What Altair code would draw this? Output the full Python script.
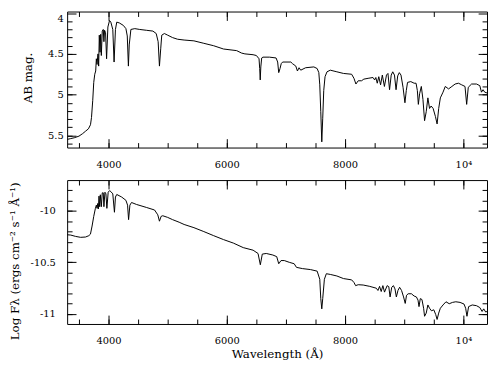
import altair as alt
import pandas as pd

# ---- top panel: AB magnitude vs wavelength ----
top_wl = [3300, 3360, 3420, 3500, 3560, 3610, 3660, 3695, 3712, 3733, 3750, 3767, 3783,
          3794, 3806, 3815, 3822, 3833, 3844, 3856, 3867, 3878, 3894, 3911, 3922, 3933,
          3950, 3967, 3989, 4017, 4039, 4072, 4094, 4117, 4139, 4183, 4250, 4294, 4317,
          4336, 4350, 4378, 4444, 4528, 4639, 4750, 4806, 4839, 4861, 4883, 4900, 4944,
          5000, 5083, 5167, 5278, 5444, 5611, 5778, 5944, 6167, 6250, 6306, 6444, 6500,
          6545, 6556, 6565, 6575, 6590, 6611, 6722, 6833, 6860, 6878, 6900, 6920, 6944,
          7083, 7111, 7167, 7194, 7222, 7250, 7333, 7472, 7528, 7556, 7572, 7589, 7606,
          7622, 7639, 7661, 7694, 7750, 7861, 7972, 8111, 8150, 8183, 8222, 8278, 8317,
          8389, 8472, 8500, 8520, 8544, 8570, 8600, 8630, 8665, 8700, 8725, 8752, 8780,
          8806, 8835, 8862, 8890, 8917, 8945, 8980, 9012, 9035, 9056, 9111, 9167, 9200,
          9222, 9239, 9260, 9289, 9317, 9344, 9372, 9400, 9428, 9455, 9489, 9528, 9556,
          9583, 9611, 9656, 9694, 9750, 9806, 9861, 9917, 9972, 10028, 10056, 10083,
          10139, 10222, 10278, 10306, 10333, 10361, 10400]
top_mag = [5.55, 5.54, 5.53, 5.51, 5.48, 5.45, 5.42, 5.37, 5.28, 5.07, 4.85, 4.75, 4.71,
           4.56, 4.63, 4.55, 4.50, 4.65, 4.27, 4.48, 4.26, 4.52, 4.22, 4.20, 4.35, 4.21,
           4.24, 4.56, 4.17, 4.09, 4.11, 4.20, 4.60, 4.20, 4.11, 4.12, 4.15, 4.19, 4.28,
           4.65, 4.39, 4.20, 4.19, 4.20, 4.21, 4.22, 4.25, 4.35, 4.65, 4.43, 4.27, 4.25,
           4.27, 4.30, 4.32, 4.33, 4.34, 4.37, 4.40, 4.44, 4.46, 4.49, 4.50, 4.51, 4.52,
           4.56, 4.68, 4.82, 4.66, 4.55, 4.54, 4.54, 4.55, 4.60, 4.73, 4.68, 4.62, 4.60,
           4.60, 4.62, 4.65, 4.71, 4.67, 4.70, 4.67, 4.66, 4.68, 4.73, 4.88, 5.21, 5.58,
           5.29, 4.95, 4.78, 4.72, 4.70, 4.72, 4.74, 4.75, 4.80, 4.87, 4.83, 4.83, 4.81,
           4.80, 4.79, 4.82, 4.79, 4.86, 4.78, 4.88, 4.76, 4.90, 4.76, 4.74, 4.94, 4.76,
           4.72, 4.76, 4.94, 4.77, 4.73, 4.76, 4.91, 5.10, 4.95, 4.85, 4.84, 4.86, 4.86,
           4.95, 5.12, 4.99, 4.90, 5.06, 5.32, 5.21, 5.04, 5.17, 5.14, 5.17, 5.27, 5.36,
           5.17, 5.04, 4.97, 4.90, 4.93, 4.90, 4.87, 4.86, 4.88, 4.90, 5.12, 4.91,
           4.87, 4.87, 4.89, 4.97, 4.94, 4.97, 4.98]

# ---- bottom panel: log F_lambda vs wavelength ----
bot_wl = [3300, 3361, 3444, 3528, 3611, 3667, 3694, 3722, 3750, 3778, 3794, 3806, 3817,
          3828, 3839, 3850, 3861, 3878, 3894, 3911, 3922, 3939, 3956, 3972, 3994, 4017,
          4039, 4072, 4100, 4117, 4139, 4222, 4294, 4322, 4339, 4361, 4389, 4472, 4639,
          4778, 4833, 4861, 4889, 4917, 5000, 5083, 5194, 5278, 5444, 5611, 5778, 5944,
          6111, 6278, 6444, 6528, 6567, 6600, 6667, 6778, 6844, 6878, 6917, 6972, 7056,
          7139, 7178, 7278, 7417, 7528, 7572, 7589, 7606, 7622, 7650, 7683, 7750, 7861,
          7972, 8111, 8150, 8178, 8222, 8306, 8417, 8472, 8528, 8556, 8583, 8611, 8639,
          8667, 8711, 8739, 8761, 8789, 8817, 8844, 8867, 8894, 8922, 8955, 8989, 9017,
          9039, 9067, 9122, 9167, 9206, 9233, 9250, 9272, 9300, 9328, 9344, 9372, 9400,
          9428, 9461, 9500, 9533, 9556, 9583, 9611, 9656, 9706, 9761, 9817, 9872, 9944,
          10011, 10039, 10061, 10089, 10150, 10222, 10278, 10317, 10344, 10378, 10400]
bot_logf = [-10.232, -10.235, -10.248, -10.257, -10.254, -10.241, -10.226, -10.147,
            -10.053, -9.975, -9.944, -9.975, -9.928, -9.981, -9.856, -9.959, -9.843,
            -9.959, -9.824, -9.824, -9.959, -9.818, -9.834, -9.975, -9.818, -9.803,
            -9.812, -9.834, -10.013, -9.865, -9.840, -9.865, -9.897, -9.944, -10.085,
            -9.944, -9.918, -9.937, -9.966, -9.991, -10.038, -10.100, -10.053, -10.047,
            -10.063, -10.085, -10.110, -10.132, -10.163, -10.201, -10.241, -10.279,
            -10.313, -10.357, -10.382, -10.414, -10.524, -10.420, -10.414, -10.429,
            -10.445, -10.514, -10.483, -10.483, -10.500, -10.514, -10.549, -10.561,
            -10.571, -10.586, -10.665, -10.853, -10.953, -10.853, -10.665, -10.611,
            -10.618, -10.633, -10.658, -10.671, -10.696, -10.727, -10.718, -10.721,
            -10.734, -10.743, -10.752, -10.774, -10.734, -10.784, -10.727, -10.790,
            -10.727, -10.737, -10.837, -10.743, -10.727, -10.759, -10.837, -10.774,
            -10.743, -10.774, -10.837, -10.900, -10.821, -10.806, -10.806, -10.828,
            -10.837, -10.868, -10.931, -10.853, -10.862, -10.947, -11.025, -10.994,
            -10.915, -10.947, -10.972, -10.962, -11.009, -11.056, -10.994, -10.947,
            -10.915, -10.884, -10.903, -10.890, -10.884, -10.890, -10.906, -10.947,
            -11.025, -10.931, -10.915, -10.922, -10.940, -10.978, -10.953, -10.984,
            -10.978]

x_domain = [3300, 10400]
x_major = [4000, 6000, 8000, 10000]
x_minor = [3500, 4000, 4500, 5000, 5500, 6000, 6500, 7000, 7500, 8000, 8500, 9000,
           9500, 10000]
top_domain = [3.98, 5.65]
top_major = [4, 4.5, 5, 5.5]
top_minor = [4.1, 4.2, 4.3, 4.4, 4.5, 4.6, 4.7, 4.8, 4.9, 5.0, 5.1, 5.2, 5.3, 5.4,
             5.5, 5.6]
bot_domain = [-11.1, -9.7]
bot_major = [-11, -10.5, -10]
bot_minor = [-11.0, -10.9, -10.8, -10.7, -10.6, -10.5, -10.4, -10.3, -10.2, -10.1,
             -10.0, -9.9, -9.8]

W = 426
H_TOP = 138
H_BOT = 146
MAJ = 9
MIN = 5

df_top = pd.DataFrame({"wl": top_wl, "val": top_mag})
df_bot = pd.DataFrame({"wl": bot_wl, "val": bot_logf})


def panel(df, ydom, yrev, ymaj, ymin, height, ytitle, ylabpad, ytitlex, ytitley,
          xtitle, xlabpad, yflush):
    xs = alt.Scale(domain=x_domain, nice=False, zero=False)
    ys = alt.Scale(domain=ydom, nice=False, zero=False, reverse=yrev)
    base = alt.Chart(df)
    yaxis_kw = dict(values=ymaj, ticks=False, domain=False, grid=False,
                    labelPadding=ylabpad, labelExpr="toString(datum.value)",
                    title=ytitle, titleX=ytitlex, titleY=ytitley)
    if yflush:
        yaxis_kw["labelFlush"] = 3
    xaxis_kw = dict(values=x_major, ticks=False, domain=False, grid=False,
                    labelPadding=xlabpad,
                    labelExpr="datum.value == 10000 ? '10\u2074' : toString(datum.value)")
    if xtitle:
        xaxis_kw["title"] = xtitle
        xaxis_kw["titlePadding"] = 3
    else:
        xaxis_kw["title"] = None
    line = base.mark_line(color="black", strokeWidth=1, clip=True).encode(
        x=alt.X("wl:Q", scale=xs, axis=alt.Axis(**xaxis_kw)),
        y=alt.Y("val:Q", scale=ys, axis=alt.Axis(**yaxis_kw)),
    )
    layers = [line]
    specs = [
        ("bottom", "left", x_major, ymaj, MAJ),  # ticks on top border / right border
        ("bottom", "left", x_minor, ymin, MIN),
        ("top", "right", x_major, ymaj, MAJ),    # ticks on bottom border / left border
        ("top", "right", x_minor, ymin, MIN),
    ]
    for xo, yo, xv, yv, size in specs:
        layers.append(
            base.mark_line(strokeOpacity=0).encode(
                x=alt.X("wl:Q", scale=xs, axis=alt.Axis(
                    orient=xo, offset=-height, values=xv, tickSize=size, labels=False,
                    domain=False, grid=False, title=None, tickColor="black",
                    tickWidth=1)),
                y=alt.Y("val:Q", scale=ys, axis=alt.Axis(
                    orient=yo, offset=-W, values=yv, tickSize=size, labels=False,
                    domain=False, grid=False, title=None, tickColor="black",
                    tickWidth=1)),
            )
        )
    return alt.layer(*layers).resolve_axis(x="independent", y="independent").properties(
        width=W, height=height)


top = panel(df_top, top_domain, True, top_major, top_minor, H_TOP, "AB mag.", 4, -33,
            H_TOP / 2 - 2, None, 12, True)
bot = panel(df_bot, bot_domain, False, bot_major, bot_minor, H_BOT,
            "Log F\u03bb (ergs cm\u207b\u00b2 s\u207b\u00b9 \u00c5\u207b\u00b9)", 12, -46,
            H_BOT / 2 + 9, "Wavelength (\u00c5)", 12, False)

chart = alt.vconcat(top, bot, spacing=33, bounds="flush").properties(
    padding=0, background="white"
).configure_view(stroke="black", strokeWidth=1).configure_axis(
    labelFont="DejaVu Serif", labelFontSize=10, labelColor="black",
    titleFont="DejaVu Serif", titleFontSize=12, titleColor="black",
    titleFontWeight="normal",
)

chart.save("out.html", embed_options={"renderer": "svg", "actions": False})
